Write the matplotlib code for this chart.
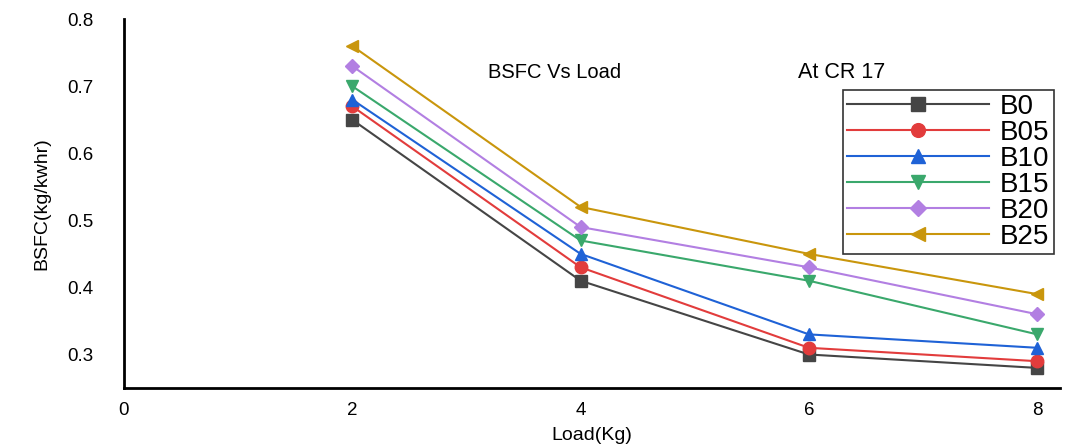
import matplotlib
matplotlib.use("Agg")
import matplotlib.pyplot as plt

plt.rcParams["font.family"] = ["Liberation Sans", "DejaVu Sans"]

load = [2, 4, 6, 8]
b0 = [0.65, 0.41, 0.30, 0.28]
b05 = [0.67, 0.43, 0.31, 0.29]
b10 = [0.68, 0.45, 0.33, 0.31]
b15 = [0.70, 0.47, 0.41, 0.33]
b20 = [0.73, 0.49, 0.43, 0.36]
b25 = [0.76, 0.52, 0.45, 0.39]

series = [
    ("B0", b0, "#454545", "s"),
    ("B05", b05, "#e23c3c", "o"),
    ("B10", b10, "#1f62d6", "^"),
    ("B15", b15, "#3aa86c", "v"),
    ("B20", b20, "#b27fe2", "D"),
    ("B25", b25, "#c9960c", "<"),
]

fig = plt.figure(figsize=(10.76, 4.45), dpi=100)
ax = fig.add_axes([0.1152, 0.128, 0.87, 0.829])

for label, vals, color, marker in series:
    ms = 7.5 if marker == "D" else 9
    ax.plot(load, vals, color=color, marker=marker, markersize=ms, linewidth=1.5, label=label)

ax.set_xlim(0, 8.2)
ax.set_ylim(0.25, 0.8)
ax.set_xticks([0, 2, 4, 6, 8])
ax.set_yticks([0.3, 0.4, 0.5, 0.6, 0.7, 0.8])
ax.set_yticklabels(["0.3", "0.4", "0.5", "0.6", "0.7", "0.8"])
ax.tick_params(length=0, labelsize=13.5)
ax.tick_params(axis="y", pad=22)
ax.tick_params(axis="x", pad=10)
for side in ["top", "right"]:
    ax.spines[side].set_visible(False)
for side in ["left", "bottom"]:
    ax.spines[side].set_linewidth(2)

ax.set_xlabel("Load(Kg)", fontsize=14, labelpad=6)
ax.set_ylabel("BSFC(kg/kwhr)", fontsize=14, labelpad=12)

ax.text(0.389, 0.855, "BSFC Vs Load", transform=ax.transAxes, fontsize=14.5, ha="left", va="center")
ax.text(0.72, 0.855, "At CR 17", transform=ax.transAxes, fontsize=15.5, ha="left", va="center")

leg = ax.legend(loc="upper right", bbox_to_anchor=(0.993, 0.808), fontsize=20,
                handlelength=5.1, handletextpad=0.4, labelspacing=0.0,
                borderpad=0.15, borderaxespad=0.0, frameon=True, fancybox=False,
                markerscale=1.1)
leg.get_frame().set_edgecolor("black")
leg.get_frame().set_linewidth(1.2)

fig.savefig("out.png", dpi=100)
